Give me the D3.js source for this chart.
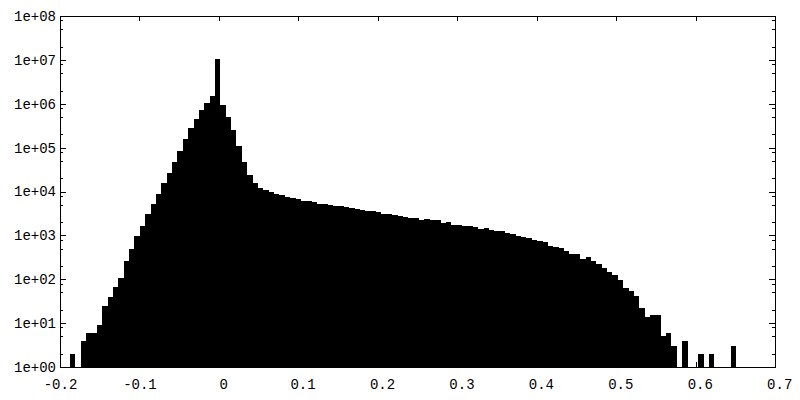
<!DOCTYPE html>
<html>
<head>
<meta charset="utf-8">
<script src="https://cdn.jsdelivr.net/npm/d3@7"></script>
<style>
  body { margin: 0; background: #fff; }
  svg { display: block; }
</style>
</head>
<body>
<div id="chart"></div>
<script>
// histogram bins: left edge of first bin + fixed width
const binStart = -0.1874;
const binWidth = 0.00676;

// counts per bin (0 = empty bin)
const binCounts = [
  2, 0, 4, 6, 6, 9, 25, 39, 67, 107,
  261, 489, 968, 1636, 3070, 5190, 8770, 15600, 26400, 47000,
  83800, 157000, 280000, 449000, 721000, 1040000, 1500000, 10500000, 936000, 499000,
  252000, 109000, 47000, 23800, 15600, 12000, 10800, 9750, 8770, 8320,
  7500, 7110, 6740, 6070, 6070, 5760, 5190, 5190, 4920, 4670,
  4670, 4430, 4200, 3990, 3790, 3600, 3600, 3410, 3070, 3070,
  2910, 2770, 2620, 2490, 2490, 2240, 2360, 2240, 2240, 1910,
  2020, 1720, 1720, 1636, 1636, 1550, 1400, 1470, 1330, 1260,
  1260, 1130, 1070, 968, 918, 871, 785, 745, 707, 573,
  543, 515, 441, 376, 376, 289, 321, 261, 223, 180,
  146, 125, 96, 63, 54, 41, 22, 14, 15, 15,
  5, 6, 3, 0, 4, 0, 0, 2, 0, 2,
  0, 0, 0, 3
];

const xTicks = [-0.2, -0.1, 0, 0.1, 0.2, 0.3, 0.4, 0.5, 0.6, 0.7];
const xTickLabels = ["-0.2", "-0.1", "0", "0.1", "0.2", "0.3", "0.4", "0.5", "0.6", "0.7"];
const yTicks = [1, 1e1, 1e2, 1e3, 1e4, 1e5, 1e6, 1e7, 1e8];
const yTickLabels = ["1e+00", "1e+01", "1e+02", "1e+03", "1e+04", "1e+05", "1e+06", "1e+07", "1e+08"];
const yMinorSteps = [2, 5, 8];

const width = 800;
const height = 400;
const plotLeft = 60, plotRight = 775, plotTop = 16, plotBottom = 367;
const font = "'Liberation Mono', 'DejaVu Sans Mono', monospace";

const svg = d3.select("#chart").append("svg")
  .attr("width", width)
  .attr("height", height);

svg.append("rect")
  .attr("width", width)
  .attr("height", height)
  .attr("fill", "#fff");

const x = d3.scaleLinear().domain([-0.2, 0.7]).range([plotLeft, plotRight]);
const y = d3.scaleLog().domain([1, 1e8]).range([plotBottom, plotTop]);

// build bins from the counts
const bins = binCounts.map((c, i) => ({
  lo: binStart + i * binWidth,
  hi: binStart + (i + 1) * binWidth,
  count: c
})).filter(d => d.count > 0);

// bars
svg.append("g")
  .attr("shape-rendering", "crispEdges")
  .selectAll("rect")
  .data(bins)
  .enter().append("rect")
    .attr("x", d => x(d.lo))
    .attr("width", d => x(d.hi) - x(d.lo))
    .attr("y", d => y(d.count))
    .attr("height", d => y(1) - y(d.count))
    .attr("fill", "#000");

// minor tick values on the log axis
let yMinor = [];
yTicks.slice(0, -1).forEach(t => yMinorSteps.forEach(m => yMinor.push(t * m)));

// gnuplot's "% g" leaves a blank where the minus sign would be
const xLabel = d => {
  const s = xTickLabels[xTicks.indexOf(d)];
  return d < 0 ? s : "\u00a0" + s;
};
const yLabel = d => yTickLabels[yTicks.indexOf(d)];

function styleAxis(g) {
  g.select(".domain").remove();
  g.attr("font-family", font).attr("font-size", 14);
  g.selectAll("line").attr("stroke", "#000").attr("shape-rendering", "crispEdges");
  g.selectAll("text").attr("fill", "#000");
}

// bottom
svg.append("g")
  .attr("transform", `translate(0,${plotBottom})`)
  .call(d3.axisBottom(x).tickValues(xTicks).tickFormat(xLabel)
    .tickSizeInner(-5).tickSizeOuter(0).tickPadding(12))
  .call(styleAxis);

// top (mirror ticks, no labels)
svg.append("g")
  .attr("transform", `translate(0,${plotTop})`)
  .call(d3.axisTop(x).tickValues(xTicks).tickFormat("")
    .tickSizeInner(-5).tickSizeOuter(0))
  .call(styleAxis);

// left
svg.append("g")
  .attr("transform", `translate(${plotLeft},0)`)
  .call(d3.axisLeft(y).tickValues(yTicks).tickFormat(yLabel)
    .tickSizeInner(-6).tickSizeOuter(0).tickPadding(4))
  .call(styleAxis);

svg.append("g")
  .attr("transform", `translate(${plotLeft},0)`)
  .call(d3.axisLeft(y).tickValues(yMinor).tickFormat("")
    .tickSizeInner(-3).tickSizeOuter(0))
  .call(styleAxis);

// right (mirror)
svg.append("g")
  .attr("transform", `translate(${plotRight},0)`)
  .call(d3.axisRight(y).tickValues(yTicks).tickFormat("")
    .tickSizeInner(-6).tickSizeOuter(0))
  .call(styleAxis);

svg.append("g")
  .attr("transform", `translate(${plotRight},0)`)
  .call(d3.axisRight(y).tickValues(yMinor).tickFormat("")
    .tickSizeInner(-3).tickSizeOuter(0))
  .call(styleAxis);

// frame
svg.append("rect")
  .attr("x", plotLeft + 0.5)
  .attr("y", plotTop + 0.5)
  .attr("width", plotRight - plotLeft)
  .attr("height", plotBottom - plotTop)
  .attr("fill", "none")
  .attr("stroke", "#000")
  .attr("shape-rendering", "crispEdges");
</script>
</body>
</html>
